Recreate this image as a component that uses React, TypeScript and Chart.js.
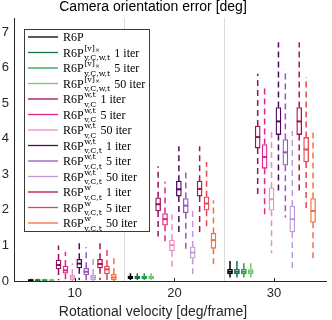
import React, { useEffect, useRef } from 'react';
import { Chart, registerables } from 'chart.js';

Chart.register(...registerables);

// ---------- data ----------
const velocities = [10, 20, 30];
const xTickLabels = ['10', '20', '30'];
const separatorLines = [15, 25];
const yTicks = [0, 1, 2, 3, 4, 5, 6, 7];
const titleText = 'Camera orientation error [deg]';
const xAxisTitle = 'Rotational velocity [deg/frame]';

// each row: [min, q1, median, q3, max] at 10, 20, 30 deg/frame
const r6p = [[0, 0.005, 0.02, 0.04, 0.06], [0.03, 0.065, 0.1, 0.14, 0.22], [0.1, 0.2, 0.26, 0.33, 0.56]];
const vx1 = [[0, 0.005, 0.02, 0.04, 0.06], [0.03, 0.065, 0.1, 0.14, 0.22], [0.1, 0.2, 0.26, 0.33, 0.56]];
const vx5 = [[0, 0.005, 0.02, 0.04, 0.06], [0.03, 0.065, 0.1, 0.14, 0.22], [0.1, 0.2, 0.26, 0.33, 0.5]];
const vx50 = [[0, 0.005, 0.02, 0.04, 0.06], [0.03, 0.065, 0.1, 0.14, 0.22], [0.1, 0.2, 0.26, 0.32, 0.5]];
const wtC1 = [[0.02, 0.34, 0.45, 0.59, 1.0], [1.25, 1.97, 2.16, 2.34, 3.23], [2.42, 3.74, 4.05, 4.36, 5.83]];
const wtC5 = [[0.02, 0.22, 0.3, 0.42, 0.82], [1.06, 1.57, 1.74, 1.9, 2.79], [1.81, 3.17, 3.49, 3.84, 5.5]];
const wtC50 = [[0, 0.03, 0.1, 0.17, 0.5], [0.4, 0.85, 1.01, 1.15, 1.9], [0.78, 1.99, 2.3, 2.62, 4.26]];
const wtCt1 = [[0.03, 0.37, 0.49, 0.61, 1.1], [1.38, 2.39, 2.58, 2.81, 3.79], [2.53, 4.12, 4.49, 4.88, 6.72]];
const wtCt5 = [[0.02, 0.17, 0.26, 0.36, 0.95], [0.8, 1.92, 2.12, 2.32, 3.14], [1.79, 3.26, 3.62, 3.98, 5.96]];
const wtCt50 = [[0, 0.03, 0.1, 0.17, 0.68], [0.2, 0.64, 0.8, 0.96, 2.07], [0.28, 1.38, 1.74, 2.11, 4.22]];
const wCt1 = [[0.03, 0.37, 0.48, 0.61, 1.1], [1.29, 2.39, 2.59, 2.81, 3.79], [2.51, 4.12, 4.49, 4.88, 6.72]];
const wCt5 = [[0.02, 0.2, 0.33, 0.42, 0.96], [1.48, 1.99, 2.18, 2.37, 3.35], [1.95, 3.35, 3.7, 4.04, 5.74]];
const wCt50 = [[0, 0.03, 0.1, 0.19, 0.68], [0.45, 0.92, 1.15, 1.34, 2.27], [0.54, 1.65, 1.97, 2.32, 4.29]];

const seriesStats = [r6p, vx1, vx5, vx50, wtC1, wtC5, wtC50, wtCt1, wtCt5, wtCt50, wCt1, wCt5, wCt50];

// legend text parts
const legendBase = ['R6P', 'R6P', 'R6P', 'R6P', 'R6P', 'R6P', 'R6P', 'R6P', 'R6P', 'R6P', 'R6P', 'R6P', 'R6P'];
const legendSup = ['', '[v]×', '[v]×', '[v]×', 'w,t', 'w,t', 'w,t', 'w,t', 'w,t', 'w,t', 'w', 'w', 'w'];
const legendSub = ['', 'v,C,w,t', 'v,C,w,t', 'v,C,w,t', 'v,C', 'v,C', 'v,C', 'v,C,t', 'v,C,t', 'v,C,t', 'v,C,t', 'v,C,t', 'v,C,t'];
const legendIter = ['', '1 iter', '5 iter', '50 iter', '1 iter', '5 iter', '50 iter', '1 iter', '5 iter', '50 iter', '1 iter', '5 iter', '50 iter'];

// ---------- styles ----------
const seriesColors = [
  '#000000',
  '#1b7343', '#23a050', '#74c66c',
  '#98105c', '#e0228a', '#f08cc4',
  '#4d0a5e', '#9656b8', '#bd9ad8',
  '#b0104e', '#e4474f', '#f4703e',
];
const solidWhisker = [true, true, true, true, false, false, false, false, false, false, false, false, false];
const boxStep = 0.695;
const boxShift = -0.25;
const axisColor = '#262626';
const sansFont = '"Liberation Sans", Arial, Helvetica, sans-serif';

const xFor = (g: number, i: number) => velocities[g] + (i - (seriesStats.length - 1) / 2) * boxStep + boxShift;

const overlayPlugin = {
  id: 'overlayText',
  afterDraw(chart: any) {
    const ctx = chart.ctx as CanvasRenderingContext2D;
    const xs = chart.scales.x;
    const area = chart.chartArea;
    ctx.save();
    // inward x tick marks
    ctx.strokeStyle = axisColor;
    ctx.lineWidth = 1;
    velocities.forEach((v) => {
      const px = Math.round(xs.getPixelForValue(v)) + 0.5;
      ctx.beginPath();
      ctx.moveTo(px, area.bottom);
      ctx.lineTo(px, area.bottom - 3);
      ctx.stroke();
    });
    // title and x label
    ctx.fillStyle = '#000';
    ctx.textAlign = 'center';
    ctx.textBaseline = 'alphabetic';
    ctx.font = `14px ${sansFont}`;
    ctx.fillText(titleText, 153, 10.5);
    ctx.fillStyle = axisColor;
    ctx.fillText(xAxisTitle, 153, 316);

    // legend
    const baseFont = '12px "Liberation Serif", "Times New Roman", serif';
    const scriptFont = '8px "DejaVu Serif", serif';
    const tinyFont = '6px "DejaVu Serif", serif';
    const left = 24.5;
    const top = 29.5;
    const firstY = 37;
    const step = 15.5;
    const textX = 63;
    const layouts = legendBase.map((base, i) => {
      ctx.font = baseFont;
      const wBase = ctx.measureText(base).width;
      const parts = legendSup[i].split('×');
      ctx.font = scriptFont;
      const wSupMain = ctx.measureText(parts[0]).width;
      ctx.font = tinyFont;
      const wX = parts.length > 1 ? ctx.measureText('×').width : 0;
      ctx.font = scriptFont;
      const wSub = ctx.measureText(legendSub[i]).width;
      const scriptX = textX + wBase + 0.5;
      const scriptW = Math.max(wSupMain + wX, wSub);
      const iterX = scriptX + scriptW + 4;
      ctx.font = baseFont;
      const wIter = ctx.measureText(legendIter[i]).width;
      return { scriptX, wSupMain, hasX: parts.length > 1, iterX, end: iterX + wIter };
    });
    const right = Math.ceil(Math.max(...layouts.map((l) => l.end)) + 3) + 0.5;
    const bottom = firstY + step * (legendBase.length - 1) + 8.5;
    ctx.fillStyle = '#fff';
    ctx.fillRect(left, top, right - left, bottom - top);
    ctx.strokeStyle = '#3a3a3a';
    ctx.lineWidth = 1;
    ctx.strokeRect(left, top, right - left, bottom - top);
    ctx.textAlign = 'left';
    legendBase.forEach((base, i) => {
      const cy = firstY + i * step;
      const l = layouts[i];
      ctx.strokeStyle = seriesColors[i];
      ctx.lineWidth = 1.3;
      ctx.beginPath();
      ctx.moveTo(28, cy);
      ctx.lineTo(58, cy);
      ctx.stroke();
      ctx.fillStyle = '#000';
      ctx.font = baseFont;
      ctx.fillText(base, textX, cy + 4);
      ctx.font = scriptFont;
      const parts = legendSup[i].split('×');
      ctx.fillText(parts[0], l.scriptX, cy - 2);
      if (l.hasX) {
        ctx.font = tinyFont;
        ctx.fillText('×', l.scriptX + l.wSupMain, cy - 0.5);
        ctx.font = scriptFont;
      }
      ctx.fillText(legendSub[i], l.scriptX, cy + 7.5);
      ctx.font = baseFont;
      ctx.fillText(legendIter[i], l.iterX, cy + 4);
    });
    ctx.restore();
  },
};

export default function App() {
  const canvasRef = useRef<HTMLCanvasElement | null>(null);

  useEffect(() => {
    document.body.style.margin = '0';
    const canvas = canvasRef.current;
    if (!canvas) return;

    const datasets: any[] = [];
    seriesStats.forEach((stats, i) => {
      const color = seriesColors[i];
      datasets.push({
        type: 'line',
        label: `whisker-${i}`,
        data: stats.flatMap((s, g) => {
          const x = xFor(g, i);
          return [
            { x, y: s[3] }, { x, y: s[4] }, { x, y: null },
            { x, y: s[1] }, { x, y: s[0] }, { x, y: null },
          ];
        }),
        borderColor: color,
        borderWidth: 1.5,
        borderDash: solidWhisker[i] ? [] : [6, 4],
        pointRadius: 0,
        fill: false,
        spanGaps: false,
        order: 2,
      });
      datasets.push({
        type: 'bar',
        label: `box-${i}`,
        data: stats.map((s, g) => ({ x: xFor(g, i), y: [s[1], s[3]] })),
        backgroundColor: '#ffffff',
        borderColor: color,
        borderWidth: 1.3,
        borderSkipped: false,
        barThickness: 5,
        grouped: false,
        order: 1,
      });
      datasets.push({
        type: 'line',
        label: `median-${i}`,
        data: stats.map((s, g) => ({ x: xFor(g, i), y: s[2] })),
        showLine: false,
        pointStyle: 'line',
        pointRadius: 2.5,
        pointBorderWidth: 2,
        pointBorderColor: color,
        pointBackgroundColor: color,
        order: 0,
      });
    });

    const chart = new Chart(canvas, {
      type: 'bar',
      data: { datasets },
      plugins: [overlayPlugin],
      options: {
        animation: false,
        responsive: false,
        devicePixelRatio: 1,
        events: [],
        layout: { padding: { top: 18, left: 0, right: 0, bottom: 0 } },
        plugins: {
          legend: { display: false },
          title: { display: false },
          tooltip: { enabled: false },
        },
        scales: {
          x: {
            type: 'linear',
            min: 3.89,
            max: 35.22,
            offset: false,
            afterFit: (scale: any) => { scale.height = 39; },
            afterBuildTicks: (scale: any) => {
              scale.ticks = [...velocities, ...separatorLines].sort((a, b) => a - b).map((v) => ({ value: v }));
            },
            ticks: {
              autoSkip: false,
              maxRotation: 0,
              padding: 5,
              color: axisColor,
              font: { family: sansFont, size: 13 },
              callback: (value: any) => {
                const idx = velocities.indexOf(Number(value));
                return idx >= 0 ? xTickLabels[idx] : '';
              },
            },
            grid: {
              offset: false,
              drawTicks: false,
              lineWidth: 1,
              color: (c: any) => (c.tick && separatorLines.includes(c.tick.value) ? '#dcdcdc' : 'rgba(0,0,0,0)'),
            },
            border: { display: true, color: axisColor, width: 1 },
          },
          y: {
            type: 'linear',
            min: 0,
            max: 7.4,
            afterFit: (scale: any) => { scale.width = 14; },
            afterBuildTicks: (scale: any) => {
              scale.ticks = yTicks.map((v) => ({ value: v }));
            },
            ticks: {
              padding: 5,
              color: axisColor,
              font: { family: sansFont, size: 13 },
              callback: (value: any) => String(value),
            },
            grid: { display: false, drawTicks: false },
            border: { display: true, color: axisColor, width: 1 },
          },
        },
      } as any,
    });

    return () => chart.destroy();
  }, []);

  return (
    <div style={{ position: 'fixed', left: 0, top: 0, width: 332, height: 320, overflow: 'hidden', background: '#fff' }}>
      <canvas ref={canvasRef} width={332} height={320} style={{ display: 'block' }} />
    </div>
  );
}
